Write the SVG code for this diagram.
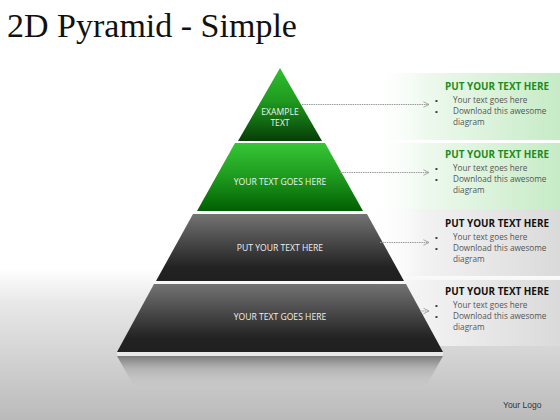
<svg xmlns="http://www.w3.org/2000/svg" width="560" height="420" viewBox="0 0 560 420">
<defs>
<linearGradient id="bg" x1="0" y1="0" x2="0" y2="1">
<stop offset="0" stop-color="#ffffff"/>
<stop offset="0.64" stop-color="#ffffff"/>
<stop offset="0.72" stop-color="#e8e8e8"/>
<stop offset="1" stop-color="#bababa"/>
</linearGradient>
<linearGradient id="g1" x1="0" y1="0" x2="0" y2="1">
<stop offset="0" stop-color="#2fbf2f"/>
<stop offset="0.45" stop-color="#1f9a1f"/>
<stop offset="1" stop-color="#063d06"/>
</linearGradient>
<linearGradient id="g2" x1="0" y1="0" x2="0" y2="1">
<stop offset="0" stop-color="#36c636"/>
<stop offset="0.5" stop-color="#1e9a1e"/>
<stop offset="1" stop-color="#015f01"/>
</linearGradient>
<linearGradient id="gk" x1="0" y1="0" x2="0" y2="1">
<stop offset="0" stop-color="#737373"/>
<stop offset="0.5" stop-color="#404040"/>
<stop offset="0.8" stop-color="#222222"/>
<stop offset="1" stop-color="#202020"/>
</linearGradient>
<linearGradient id="refl" x1="0" y1="0" x2="0" y2="1">
<stop offset="0" stop-color="#7a7a7a"/>
<stop offset="0.4" stop-color="#a8a8a8" stop-opacity="0.7"/>
<stop offset="1" stop-color="#c4c4c4" stop-opacity="0"/>
</linearGradient>
<linearGradient id="pg" x1="0" y1="0" x2="1" y2="0">
<stop offset="0" stop-color="#ffffff" stop-opacity="0"/>
<stop offset="0.3" stop-color="#eef9ee"/>
<stop offset="1" stop-color="#c6ebc6"/>
</linearGradient>
<linearGradient id="pk" x1="0" y1="0" x2="1" y2="0">
<stop offset="0" stop-color="#ffffff" stop-opacity="0"/>
<stop offset="0.3" stop-color="#f2f2f2"/>
<stop offset="1" stop-color="#dadada"/>
</linearGradient>
<marker id="arr" viewBox="0 0 10 10" refX="9" refY="5" markerWidth="7" markerHeight="7" markerUnits="userSpaceOnUse" orient="auto">
<path d="M1,1 L9,5 L1,9" fill="none" stroke="#9a9a9a" stroke-width="1.2"/>
</marker>
<style>
.title{font-family:"Liberation Serif",serif;font-size:34px;fill:#111}
.tl{font-family:"Open Sans","Liberation Sans",sans-serif;font-size:8.6px;fill:#ffffff;text-anchor:middle;opacity:0.92}
.hg{font-family:"Open Sans","Liberation Sans",sans-serif;font-size:11px;font-weight:bold;fill:#1c8c1c}
.hk{font-family:"Open Sans","Liberation Sans",sans-serif;font-size:11px;font-weight:bold;fill:#111}
.bt{font-family:"Open Sans","Liberation Sans",sans-serif;font-size:8.2px;fill:#555}
.bu{font-family:"Liberation Sans",sans-serif;font-size:8px;fill:#333}
.conn{stroke:#9a9a9a;stroke-width:1;stroke-dasharray:1.5 0.8;fill:none}
.logo{font-family:"Liberation Sans",sans-serif;font-size:8.5px;fill:#333}
</style>
</defs>
<rect x="0" y="0" width="560" height="420" fill="url(#bg)"/>
<text class="title" x="7" y="37">2D Pyramid - Simple</text>

<g id="panels">
<rect x="368" y="73" width="192" height="67" fill="url(#pg)"/>
<rect x="368" y="143" width="192" height="67" fill="url(#pg)"/>
<rect x="368" y="209" width="192" height="67" fill="url(#pk)"/>
<rect x="368" y="280" width="192" height="66" fill="url(#pk)"/>
</g>

<g id="reflection">
<polygon points="117,356 443,356 425,388 135,388" fill="url(#refl)"/>
<rect x="117" y="352" width="326" height="4" fill="#e8e8e8"/>
</g>

<g id="tier1">
<polygon points="280,68 322,141 238,141" fill="url(#g1)"/>
<text class="tl" x="280" y="115">EXAMPLE</text>
<text class="tl" x="280" y="126">TEXT</text>
</g>
<g id="tier2">
<polygon points="235,143 325,143 363,211 197,211" fill="url(#g2)"/>
<text class="tl" x="280" y="185">YOUR TEXT GOES HERE</text>
</g>
<g id="tier3">
<polygon points="193,214 367,214 404,281 156,281" fill="url(#gk)"/>
<text class="tl" x="280" y="251">PUT YOUR TEXT HERE</text>
</g>
<g id="tier4">
<polygon points="154,284 406,284 443,352 117,352" fill="url(#gk)"/>
<text class="tl" x="280" y="320">YOUR TEXT GOES HERE</text>
</g>

<g id="connectors">
<line class="conn" x1="302" y1="104.5" x2="429" y2="104.5" marker-end="url(#arr)"/>
<line class="conn" x1="340" y1="172.5" x2="429" y2="172.5" marker-end="url(#arr)"/>
<line class="conn" x1="380" y1="242.5" x2="429" y2="242.5" marker-end="url(#arr)"/>
<line class="conn" x1="420" y1="311" x2="429" y2="311" marker-end="url(#arr)"/>
</g>

<g id="text1">
<text class="hg" x="445" y="90" textLength="104" lengthAdjust="spacingAndGlyphs">PUT YOUR TEXT HERE</text>
<text class="bu" x="435" y="103">•</text>
<text class="bu" x="435" y="114">•</text>
<text class="bt" x="453" y="103">Your text goes here</text>
<text class="bt" x="453" y="114">Download this awesome</text>
<text class="bt" x="453" y="125">diagram</text>
</g>
<g id="text2">
<text class="hg" x="445" y="158" textLength="104" lengthAdjust="spacingAndGlyphs">PUT YOUR TEXT HERE</text>
<text class="bu" x="435" y="171">•</text>
<text class="bu" x="435" y="182">•</text>
<text class="bt" x="453" y="171">Your text goes here</text>
<text class="bt" x="453" y="182">Download this awesome</text>
<text class="bt" x="453" y="193">diagram</text>
</g>
<g id="text3">
<text class="hk" x="445" y="227" textLength="104" lengthAdjust="spacingAndGlyphs">PUT YOUR TEXT HERE</text>
<text class="bu" x="435" y="240">•</text>
<text class="bu" x="435" y="251">•</text>
<text class="bt" x="453" y="240">Your text goes here</text>
<text class="bt" x="453" y="251">Download this awesome</text>
<text class="bt" x="453" y="262">diagram</text>
</g>
<g id="text4">
<text class="hk" x="445" y="295" textLength="104" lengthAdjust="spacingAndGlyphs">PUT YOUR TEXT HERE</text>
<text class="bu" x="435" y="308">•</text>
<text class="bu" x="435" y="319">•</text>
<text class="bt" x="453" y="308">Your text goes here</text>
<text class="bt" x="453" y="319">Download this awesome</text>
<text class="bt" x="453" y="330">diagram</text>
</g>

<text class="logo" x="503" y="408">Your Logo</text>
</svg>
